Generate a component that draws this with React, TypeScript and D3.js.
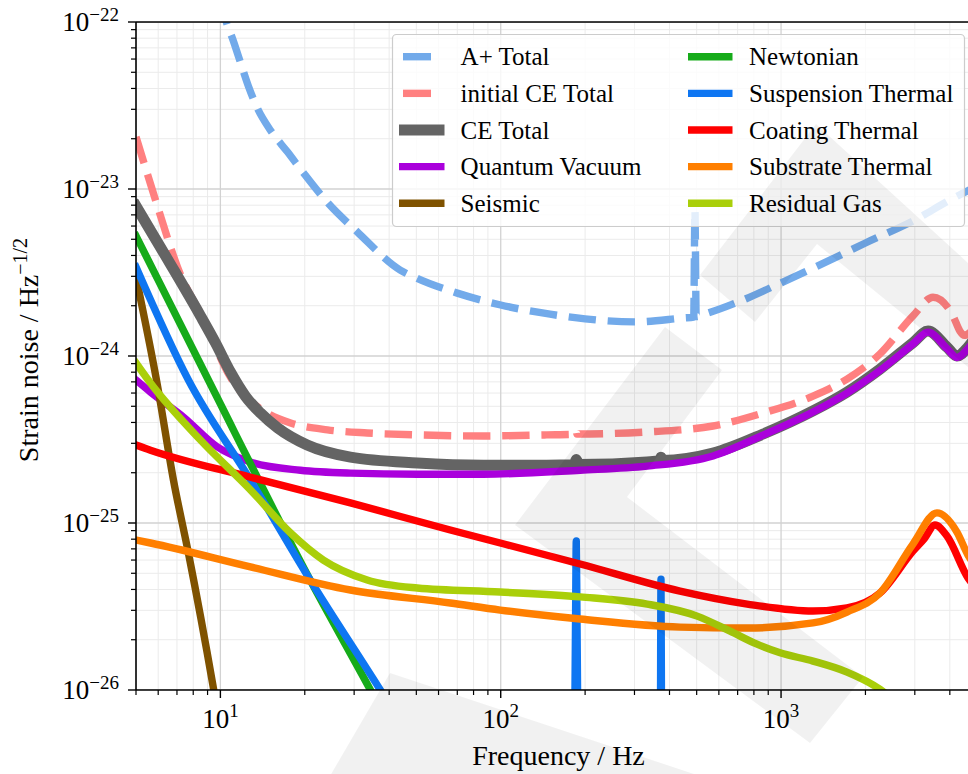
import React from 'react';
import * as d3 from 'd3';

// ---------- data (frequency in Hz, strain in 1/sqrt(Hz)) ----------
const aplusF = [10, 10.5, 11.03, 11.78, 12.58, 13.55, 15.08, 17.34, 19.77, 24, 30.8, 43.8, 50, 70, 100, 150, 200, 300, 450, 488, 493, 498, 550, 700, 1000, 1500, 2000, 3000, 4000, 5000];
const aplusV = [1.4e-22, 1.0e-22, 8.02e-23, 5.76e-23, 4.14e-23, 3.05e-23, 2.25e-23, 1.67e-23, 1.25e-23, 8.36e-24, 5.53e-24, 3.27e-24, 2.93e-24, 2.38e-24, 2.02e-24, 1.78e-24, 1.67e-24, 1.6e-24, 1.69e-24, 1.71e-24, 7.5e-24, 1.72e-24, 1.81e-24, 2.1e-24, 2.74e-24, 3.76e-24, 4.75e-24, 6.52e-24, 8.59e-24, 1.04e-23];

const initCEF = [5, 5.87, 7.03, 9.21, 10.17, 11.31, 12.8, 14.47, 17.8, 24.1, 33.4, 50.4, 86.6, 146, 185, 186, 187, 333, 572, 863, 1300, 1719, 2254, 2955, 3483, 4105, 4345, 4500, 5000];
const initCEV = [2.05e-23, 8.59e-24, 3.41e-24, 1.37e-24, 9.2e-25, 6.7e-25, 5.38e-25, 4.62e-25, 3.97e-25, 3.61e-25, 3.46e-25, 3.37e-25, 3.32e-25, 3.37e-25, 3.4e-25, 3.55e-25, 3.41e-25, 3.51e-25, 3.81e-25, 4.56e-25, 5.75e-25, 7.28e-25, 1.03e-24, 1.74e-24, 2.25e-24, 1.74e-24, 1.41e-24, 1.33e-24, 1.55e-24];

const ceTotalF = [5, 6.47, 8.49, 9.6, 10.86, 12.28, 13.89, 16, 20.4, 29.1, 50.4, 86.6, 146, 183, 186, 189, 333, 370, 373, 376, 572, 863, 1300, 1719, 2254, 2955, 3344, 3907, 4241, 4643, 5000];
const ceTotalV = [7.9e-24, 3.81e-24, 1.74e-24, 1.2e-24, 8.02e-25, 5.75e-25, 4.56e-25, 3.71e-25, 2.93e-25, 2.48e-25, 2.29e-25, 2.22e-25, 2.22e-25, 2.23e-25, 2.4e-25, 2.24e-25, 2.32e-25, 2.36e-25, 2.48e-25, 2.37e-25, 2.62e-25, 3.41e-25, 4.69e-25, 6.08e-25, 8.35e-25, 1.2e-24, 1.41e-24, 1.13e-24, 1.0e-24, 1.13e-24, 1.34e-24];

const quantumF = [5, 5.63, 7.38, 9.76, 12.8, 19.3, 29.1, 50.4, 86.6, 192, 333, 572, 863, 1300, 1719, 2254, 2955, 3344, 3907, 4241, 4643, 5000];
const quantumV = [7.18e-25, 6.08e-25, 4.31e-25, 2.85e-25, 2.32e-25, 2.07e-25, 1.99e-25, 1.96e-25, 1.96e-25, 2.07e-25, 2.19e-25, 2.52e-25, 3.36e-25, 4.62e-25, 6.0e-25, 8.2e-25, 1.18e-24, 1.39e-24, 1.11e-24, 9.8e-25, 1.11e-24, 1.32e-24];

const seismicF = [5, 5.96, 6.8, 7.69, 9.44, 10.2];
const seismicV = [2.97e-24, 6.7e-25, 1.81e-25, 6.61e-26, 1.03e-26, 4.8e-27];

const newtonianF = [5, 9.06, 20.9, 34.3, 40];
const newtonianV = [5.24e-24, 7.18e-25, 4.56e-26, 1e-26, 6.2e-27];

const suspF = [5, 7.69, 12.8, 20.9, 37.2, 45, 100, 180, 183, 185, 186, 187, 189, 192, 360, 371, 373, 375, 385, 1000];
const suspV = [3.41e-24, 7.18e-25, 1.81e-25, 4.56e-26, 1e-26, 6e-27, 5e-28, 1e-28, 3e-27, 3e-26, 7.8e-26, 3e-26, 3e-27, 1e-28, 1e-28, 4e-27, 4.6e-26, 4e-27, 1e-28, 1e-28];

const coatingF = [5, 5.63, 12.8, 29.1, 66.1, 99.6, 192, 436, 757, 1300, 1719, 2254, 2955, 3250, 3540, 3907, 4643, 5000];
const coatingV = [2.93e-25, 2.73e-25, 1.88e-25, 1.32e-25, 9.08e-26, 7.59e-26, 5.68e-26, 3.91e-26, 3.27e-26, 2.97e-26, 3.1e-26, 3.81e-26, 6.79e-26, 8.1e-26, 9.72e-26, 8.36e-26, 4.69e-26, 4.0e-26];

const substrateF = [5, 5.63, 12.8, 29.1, 66.1, 99.6, 192, 436, 757, 1300, 1719, 2254, 2955, 3599, 4241, 4643, 5000];
const substrateV = [7.9e-26, 7.59e-26, 5.46e-26, 3.97e-26, 3.32e-26, 3.01e-26, 2.66e-26, 2.38e-26, 2.35e-26, 2.52e-26, 2.93e-26, 3.81e-26, 7.48e-26, 1.15e-25, 8.83e-26, 6.43e-26, 5.4e-26];

const gasF = [5, 5.63, 8.49, 12.8, 17.8, 23.3, 33.4, 50.4, 99.6, 192, 333, 502, 658, 821, 992, 1300, 1719, 2254, 2655];
const gasV = [9.08e-25, 6.89e-25, 3.14e-25, 1.58e-25, 8.71e-26, 6.0e-26, 4.56e-26, 4.08e-26, 3.86e-26, 3.61e-26, 3.27e-26, 2.77e-26, 2.25e-26, 1.88e-26, 1.67e-26, 1.49e-26, 1.28e-26, 1.01e-26, 8.1e-27];

const seriesLabels = ['A+ Total', 'initial CE Total', 'CE Total', 'Quantum Vacuum', 'Seismic', 'Newtonian', 'Suspension Thermal', 'Coating Thermal', 'Substrate Thermal', 'Residual Gas'];
const xTickValues = [10, 100, 1000];
const xTickExps = ['1', '2', '3'];
const yTickValues = [1e-22, 1e-23, 1e-24, 1e-25, 1e-26];
const yTickExps = ['\u221222', '\u221223', '\u221224', '\u221225', '\u221226'];

// ---------- styling ----------
const FONT = '"Liberation Serif", "Times New Roman", "DejaVu Serif", serif';
const seriesStyle = [
  { color: '#72aaea', width: 7.4, dash: true },
  { color: '#ff8080', width: 7.4, dash: true },
  { color: '#646464', width: 11, dash: false },
  { color: '#aa00dc', width: 7.4, dash: false },
  { color: '#7f5200', width: 7.4, dash: false },
  { color: '#16ab1a', width: 7.4, dash: false },
  { color: '#0e76f2', width: 7.4, dash: false },
  { color: '#ff0000', width: 7.4, dash: false },
  { color: '#ff7f00', width: 7.4, dash: false },
  { color: '#aacf0a', width: 7.4, dash: false },
];
const seriesData: [number[], number[]][] = [
  [aplusF, aplusV], [initCEF, initCEV], [ceTotalF, ceTotalV], [quantumF, quantumV], [seismicF, seismicV],
  [newtonianF, newtonianV], [suspF, suspV], [coatingF, coatingV], [substrateF, substrateV], [gasF, gasV],
];

// decorative watermark (logo) polygons in page pixels
const watermark = [
  [[700, 275], [816, 124], [990, 283], [990, 385], [817, 244], [755, 322]],
  [[515, 525], [665, 327], [722, 370], [627, 497], [863, 677], [810, 743]],
  [[390, 673], [700, 776], [330, 776]],
];

export default function App() {
  const W = 968, H = 774;
  const L = 136, R = 977, T = 22, B = 690;
  const x = d3.scaleLog().domain([5, 5000]).range([L, R]);
  const y = d3.scaleLog().domain([1e-26, 1e-22]).range([B, T]);

  const mkPath = (fs: number[], vs: number[]) =>
    d3.line<number>()
      .x((i) => x(fs[i]))
      .y((i) => y(Math.max(vs[i], 1e-30)))
      .curve(d3.curveMonotoneX)(fs.map((_, i) => i)) || '';

  const xMinor: number[] = [];
  for (let d = 1; d <= 1000; d *= 10) for (let k = 2; k <= 9; k++) {
    const v = k * d;
    if (v >= 5 && v <= 5000) xMinor.push(v);
  }
  const yMinor: number[] = [];
  for (let d = 1e-26; d < 1e-22 * 0.99; d *= 10) for (let k = 2; k <= 9; k++) yMinor.push(k * d);

  const rowY = (i: number) => 56.7 + i * 36.65;

  return (
    <svg width={W} height={H} style={{ position: 'absolute', left: 0, top: 0, background: '#fff', fontFamily: FONT }}>
      <defs>
        <clipPath id="plotclip"><rect x={L} y={T} width={R - L} height={B - T} /></clipPath>
      </defs>
      <rect x={0} y={0} width={W} height={H} fill="#fff" />
      {/* grid */}
      <g clipPath="url(#plotclip)">
        {xMinor.map((v) => <line key={'xm' + v} x1={x(v)} x2={x(v)} y1={T} y2={B} stroke="#ebebeb" strokeWidth={1} />)}
        {yMinor.map((v, i) => <line key={'ym' + i} x1={L} x2={R} y1={y(v)} y2={y(v)} stroke="#ebebeb" strokeWidth={1} />)}
        {xTickValues.map((v) => <line key={'xM' + v} x1={x(v)} x2={x(v)} y1={T} y2={B} stroke="#d2d2d2" strokeWidth={1.3} />)}
        {yTickValues.map((v, i) => <line key={'yM' + i} x1={L} x2={R} y1={y(v)} y2={y(v)} stroke="#d2d2d2" strokeWidth={1.3} />)}
      </g>
      {/* curves */}
      <g clipPath="url(#plotclip)" fill="none">
        {seriesData.map(([fs, vs], i) => (
          <path key={'s' + i} d={mkPath(fs, vs)} stroke={seriesStyle[i].color} strokeWidth={seriesStyle[i].width}
            strokeDasharray={seriesStyle[i].dash ? '27.4 11.8' : undefined}
            strokeLinejoin="round" strokeLinecap={seriesStyle[i].dash ? 'butt' : 'square'} />
        ))}
      </g>
      {/* spines */}
      <line x1={L} x2={L} y1={T} y2={B} stroke="#000" strokeWidth={1.6} />
      <line x1={L} x2={R} y1={B} y2={B} stroke="#000" strokeWidth={1.6} />
      <line x1={L} x2={R} y1={T} y2={T} stroke="#000" strokeWidth={1.6} />
      {/* ticks */}
      {xMinor.map((v) => <line key={'xt' + v} x1={x(v)} x2={x(v)} y1={B} y2={B + 5} stroke="#000" strokeWidth={1.2} />)}
      {xTickValues.map((v) => <line key={'xT' + v} x1={x(v)} x2={x(v)} y1={B} y2={B + 8} stroke="#000" strokeWidth={1.4} />)}
      {yMinor.map((v, i) => <line key={'yt' + i} x1={L - 5} x2={L} y1={y(v)} y2={y(v)} stroke="#000" strokeWidth={1.2} />)}
      {yTickValues.map((v, i) => <line key={'yT' + i} x1={L - 8} x2={L} y1={y(v)} y2={y(v)} stroke="#000" strokeWidth={1.4} />)}
      {/* tick labels */}
      {yTickValues.map((v, i) => (
        <text key={'yl' + i} x={119} y={y(v) + 9} textAnchor="end" fontSize={27} fill="#000">
          10<tspan dy={-10} fontSize={19}>{yTickExps[i]}</tspan>
        </text>
      ))}
      {xTickValues.map((v, i) => (
        <text key={'xl' + i} x={x(v)} y={728} textAnchor="middle" fontSize={27} fill="#000">
          10<tspan dy={-11} fontSize={19}>{xTickExps[i]}</tspan>
        </text>
      ))}
      {/* axis labels */}
      <text x={(L + R) / 2 + 2} y={765} textAnchor="middle" fontSize={28} fill="#000">Frequency / Hz</text>
      <text transform="translate(38,350) rotate(-90)" textAnchor="middle" fontSize={28} fill="#000">
        Strain noise / Hz<tspan dy={-11} fontSize={20}>{'\u22121/2'}</tspan>
      </text>
      {/* legend */}
      <rect x={392.5} y={34.5} width={572} height={192} rx={4} fill="#fff" fillOpacity={0.8} stroke="#cccccc" strokeWidth={1.2} />
      {seriesLabels.map((lab, i) => {
        const col = i < 5 ? 0 : 1;
        const row = i % 5;
        const st = seriesStyle[i];
        const hx1 = col === 0 ? (st.dash ? 403 : 399) : 688;
        const hx2 = col === 0 ? (st.dash ? 431 : 444.5) : 732.5;
        const tx = col === 0 ? 460.6 : 749;
        const yy = rowY(row);
        return (
          <g key={'lg' + i}>
            <line x1={hx1} x2={hx2} y1={yy} y2={yy} stroke={st.color} strokeWidth={st.width} />
            <text x={tx} y={yy + 8.5} fontSize={25} fill="#000">{lab}</text>
          </g>
        );
      })}
      {/* watermark */}
      {watermark.map((poly, i) => (
        <polygon key={'wm' + i} points={poly.map((p) => p.join(',')).join(' ')} fill="#000" fillOpacity={0.055} />
      ))}
    </svg>
  );
}
